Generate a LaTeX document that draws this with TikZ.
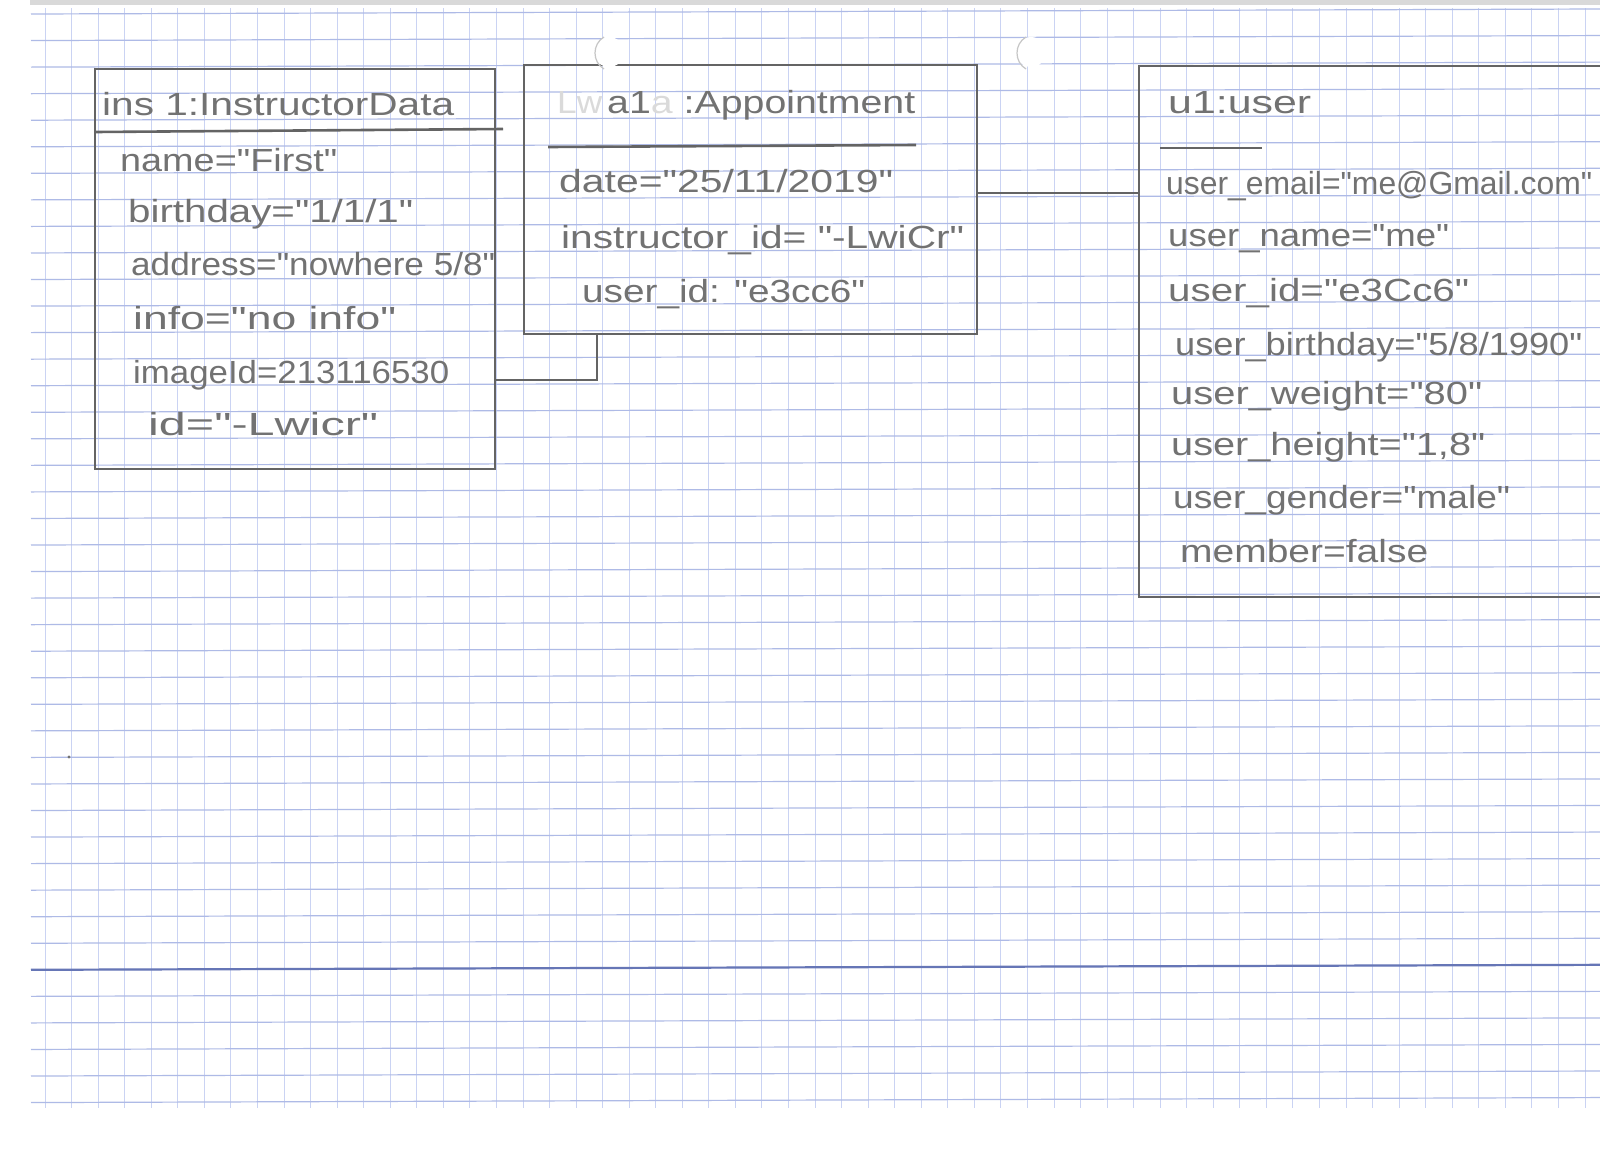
\documentclass[tikz,border=0pt]{standalone}
\usepackage{fontspec}
\setmainfont{Liberation Sans}[Ligatures=TeXOff]
\usepackage{graphicx}
\newcommand\fitt[2]{\resizebox{#1pt}{\height}{#2}}
\definecolor{pencil}{HTML}{727272}
\definecolor{pencilline}{HTML}{646464}
\definecolor{faint}{HTML}{DADADA}
\definecolor{hgridc}{HTML}{AEBAE6}
\definecolor{vgridc}{HTML}{CAD3F3}
\definecolor{thickc}{HTML}{6676B6}
\begin{document}
\begin{tikzpicture}[x=1pt,y=-1pt,
  hgrid/.style={hgridc, line width=1.2pt},
  vgrid/.style={vgridc, line width=0.8pt},
  thickgrid/.style={thickc, line width=2.2pt},
  objbox/.style={draw=pencilline, line width=2.8pt, rectangle, inner sep=0pt},
  sepline/.style={draw=pencilline, line width=2.6pt},
  conn/.style={draw=pencilline, line width=2.6pt},
  attr/.style={anchor=base west, inner sep=0pt, text=pencil, font=\fontsize{32}{36}\selectfont},
  hole/.style={draw=gray!45, line width=1.2pt},
]
\useasboundingbox (0,0) rectangle (1600,1149);
\clip (0,0) rectangle (1600,1149);
\fill[white] (0,0) rectangle (1600,1149);
\fill[gray!30] (30,0) rectangle (1600,5);
% grid paper
\foreach \i in {0,...,59} {
  \draw[vgrid] ({45+\i*26.55},8) -- ({45+\i*26.55},1108);
}
\foreach \j in {0,...,41} {
  \draw[hgrid] (31,{14+\j*26.55}) -- (1600,{14+\j*26.55-5});
}
\draw[thickgrid] (31,{14+36*26.55}) -- (1600,{14+36*26.55-5});

% object boxes
\node[objbox, minimum width=400pt, minimum height=400pt] (box1) at (295,269) {};
\node[objbox, minimum width=453pt, minimum height=269pt] (box2) at (750.5,199.5) {};
\node[objbox, minimum width=481pt, minimum height=531pt] (box3) at (1379.5,331.5) {};

% punch holes
\fill[white] (609,52) circle (15);
\draw[hole] (604,37) .. controls (592,44) and (592,62) .. (604,69);
\fill[white] (1031,52) circle (15);
\draw[hole] (1026,37) .. controls (1014,44) and (1014,62) .. (1026,69);

% header separators
\draw[sepline] (95,132) -- (503,129);
\draw[sepline] (548,147) -- (916,145);
\draw[sepline] (1160,148) -- (1262,148);

% connectors
\coordinate (k1) at (597,380);
\draw[conn] (box1.east |- k1) -- (k1) -- (k1 |- box2.south);
\coordinate (k2) at (1060,193);
\draw[conn] (box2.east |- k2) -- (box3.west |- k2);

% box 1 texts
\node[attr] (b1t) at (102,115) {\fitt{352}{ins 1:InstructorData}};
\node[attr] (b1a) at (120,171) {\fitt{217}{name="First"}};
\node[attr] (b1b) at (128,222) {\fitt{285}{birthday="1/1/1"}};
\node[attr] (b1c) at (131,275) {\fitt{364}{address="nowhere 5/8"}};
\node[attr] (b1d) at (133,329) {\fitt{263}{info="no info"}};
\node[attr] (b1e) at (133,383) {\fitt{316}{imageId=213116530}};
\node[attr] (b1f) at (148,435) {\fitt{230}{id="-Lwicr"}};

% box 2 texts
\node[attr, text=faint] (b2g) at (557,113) {\fitt{45}{Lw}};
\node[attr] (b2t) at (607,113) {\fitt{308}{a1{\color{faint}a} :Appointment}};
\node[attr] (b2a) at (559,192) {\fitt{334}{date="25/11/2019"}};
\node[attr] (b2b) at (561,248) {\fitt{403}{instructor\_id= "-LwiCr"}};
\node[attr] (b2c) at (582,302) {\fitt{283}{user\_id: "e3cc6"}};

% box 3 texts
\node[attr] (b3t) at (1168,113) {\fitt{143}{u1:user}};
\node[attr] (b3a) at (1166,194) {\fitt{426}{user\_email="me@Gmail.com"}};
\node[attr] (b3b) at (1168,246) {\fitt{281}{user\_name="me"}};
\node[attr] (b3c) at (1168,301) {\fitt{301}{user\_id="e3Cc6"}};
\node[attr] (b3d) at (1175,355) {\fitt{407}{user\_birthday="5/8/1990"}};
\node[attr] (b3e) at (1171,404) {\fitt{311}{user\_weight="80"}};
\node[attr] (b3f) at (1171,455) {\fitt{314}{user\_height="1,8"}};
\node[attr] (b3g) at (1173,508) {\fitt{337}{user\_gender="male"}};
\node[attr] (b3h) at (1180,562) {\fitt{248}{member=false}};

\fill[pencil] (69,757) circle (1.6);
\end{tikzpicture}
\end{document}
